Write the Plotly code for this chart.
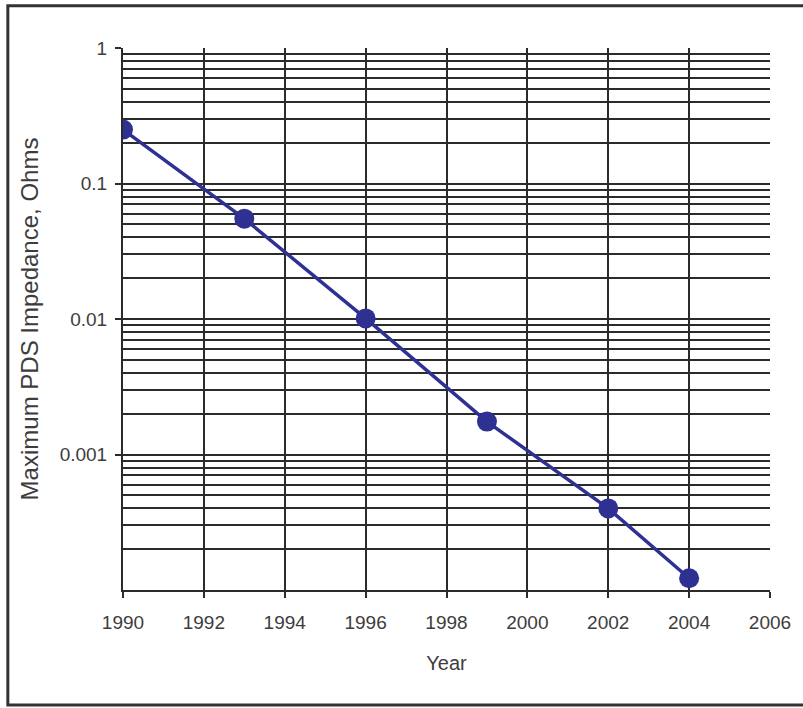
import plotly.graph_objects as go

years = [1990, 1993, 1996, 1999, 2002, 2004]
impedance = [0.25, 0.055, 0.0101, 0.00175, 0.0004, 0.000122]
x_ticks = [1990, 1992, 1994, 1996, 1998, 2000, 2002, 2004, 2006]
y_tickvals = [0.001, 0.01, 0.1, 1]
y_ticktext = ["0.001", "0.01", "0.1", "1"]

blue = "#2E3192"
grid = "#2b2b2b"
txt = "#3d3d3d"
font = "Liberation Sans, Arial, sans-serif"

fig = go.Figure()
fig.add_trace(go.Scatter(
    x=years, y=impedance, mode="lines+markers",
    line=dict(color=blue, width=3.5),
    marker=dict(color=blue, size=20, line=dict(width=0)),
    showlegend=False,
))

fig.update_layout(
    width=803, height=708,
    margin=dict(l=123, r=28, t=48, b=118),
    paper_bgcolor="white", plot_bgcolor="white",
    font=dict(family=font, size=19, color=txt),
    xaxis=dict(
        range=[1990, 2006], tickvals=x_ticks,
        showgrid=True, gridcolor=grid, gridwidth=1.8,
        showline=True, linecolor=grid, linewidth=2,
        ticks="outside", ticklen=6, tickcolor=grid, tickwidth=2,
        ticklabelstandoff=8,
        zeroline=False,
        title=dict(text="Year", font=dict(size=20, color=txt), standoff=24),
        tickfont=dict(size=19, color=txt),
    ),
    yaxis=dict(
        type="log", range=[-4, 0],
        tickvals=y_tickvals, ticktext=y_ticktext,
        showgrid=True, gridcolor=grid, gridwidth=1.8,
        showline=True, linecolor=grid, linewidth=2,
        ticks="outside", ticklen=6, tickcolor=grid, tickwidth=2,
        ticklabelstandoff=4,
        minor=dict(dtick="D1", showgrid=True, gridcolor=grid, gridwidth=1.6, ticks=""),
        title=dict(text="Maximum PDS Impedance, Ohms", font=dict(size=24, color=txt), standoff=14),
        tickfont=dict(size=19, color=txt),
    ),
    shapes=[
        dict(type="rect", xref="paper", yref="paper",
             x0=-0.178, x1=1.345, y0=-0.212, y1=1.078,
             line=dict(color="#333333", width=3), fillcolor="rgba(0,0,0,0)", layer="below"),
    ],
)

fig.write_html("out.html")
